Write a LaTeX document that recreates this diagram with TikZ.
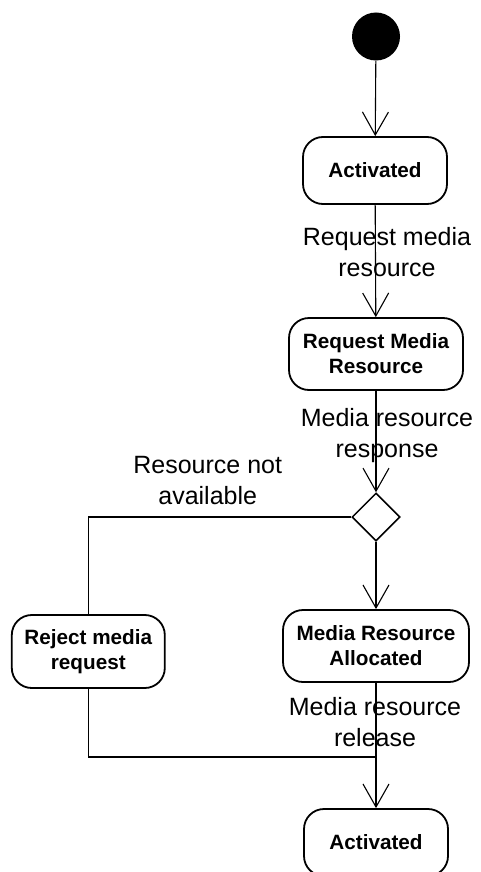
\documentclass[tikz,border=0pt]{standalone}
\usepackage{fontspec}
\setmainfont{Liberation Sans}
\usetikzlibrary{arrows.meta,shapes.geometric}

\tikzset{
  state/.style={draw, line width=1.8pt, rounded corners=20pt, align=center,
    inner sep=0pt, font=\fontsize{20.7}{25}\selectfont\bfseries},
  flow/.style={line width=1.1pt, -{Straight Barb[length=23pt,width=26pt,line width=1.1pt]}},
  plain/.style={line width=1.1pt},
  lbl/.style={align=center, inner sep=0pt, font=\fontsize{25}{31}\selectfont},
}

\begin{document}
\begin{tikzpicture}[x=1pt,y=-1pt]
  \clip (0,0) rectangle (480,872);
  \fill[white] (0,0) rectangle (480,872);

  % initial node
  \node[circle, fill=black, minimum size=48pt, inner sep=0pt] (start) at (376,36.5) {};

  % activity states
  \node[state, minimum width=144pt, minimum height=67pt] (act1) at (375,170.5) {Activated};
  \node[state, minimum width=174pt, minimum height=72pt] (req) at (376,354) {Request Media\\Resource};
  \node[draw, diamond, line width=1.5pt, minimum width=48pt, minimum height=48pt, inner sep=0pt] (dec) at (376,517) {};
  \node[state, minimum width=153pt, minimum height=73pt] (rej) at (88.3,651.5) {Reject media\\request};
  \node[state, minimum width=186pt, minimum height=72pt] (alloc) at (376,646) {Media Resource\\Allocated};
  \node[state, minimum width=144pt, minimum height=67pt] (act2) at (376,842.5) {Activated};

  \coordinate (join) at (376,757);

  % transitions
  \draw[flow] (start) -- (act1);
  \draw[flow] (act1) -- (req);
  \draw[flow] (req) -- (dec);
  \draw[flow] (dec) -- (alloc);
  \draw[plain] (dec.west) -| (rej.north);
  \draw[plain] (rej.south) |- (join);
  \draw[flow] (alloc) -- (act2);

  % transition labels
  \node[lbl] (l1) at (387,252.5) {Request media\\resource};
  \node[lbl] (l2) at (387,435.5) {Media resource\\response};
  \node[lbl] (l3) at (207.7,480.5) {Resource not\\available};
  \node[lbl] (l4) at (375,722) {Media resource\\release};
\end{tikzpicture}
\end{document}
